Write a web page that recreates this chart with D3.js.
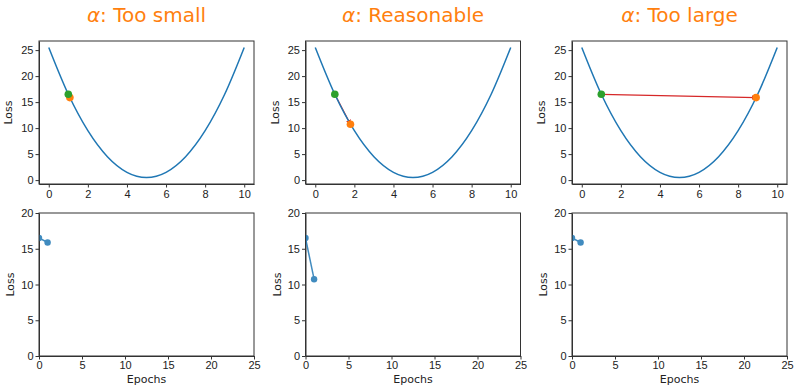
<!DOCTYPE html>
<html>
<head>
<meta charset="utf-8">
<script src="https://cdn.jsdelivr.net/npm/d3@7"></script>
<style>
  body { margin: 0; background: #fff; }
  svg { font-family: "DejaVu Sans", sans-serif; }
  .tick text { fill: #222; }
  .domain, .tick line { stroke: #333; }
</style>
</head>
<body>
<div id="chart"></div>
<script>
// loss curve samples
const curveX = [0, 1, 2, 3, 4, 5, 6, 7, 8, 9, 10];
const curveLoss = [25.5, 16.5, 9.5, 4.5, 1.5, 0.5, 1.5, 4.5, 9.5, 16.5, 25.5];

// one entry per learning rate
const titles = ['Too small', 'Reasonable', 'Too large'];
const startPoint = [1, 16.5];
const endX = [1.08, 1.8, 8.92];
const endLoss = [15.87, 10.74, 15.87];

// bottom row: loss per epoch
const epochs = [0, 1];
const lossHistory = [
  [16.5, 15.87],
  [16.5, 10.74],
  [16.5, 15.87]
];

const topTicksX = [0, 2, 4, 6, 8, 10];
const topTicksY = [0, 5, 10, 15, 20, 25];
const bottomTicksX = [0, 5, 10, 15, 20, 25];
const bottomTicksY = [0, 5, 10, 15, 20];

const blue = '#1f77b4', orange = '#ff7f0e', green = '#2ca02c', red = '#d62728';

const width = 800, height = 392;
const panelLeft = [39, 305.5, 572];
const panelW = 215;
const topY = 41, topH = 143;
const botY = 213, botH = 143;
const fs = 11;

const svg = d3.select('#chart')
  .append('svg')
  .attr('width', width)
  .attr('height', height);

const defs = svg.append('defs');
defs.append('marker')
  .attr('id', 'arrow')
  .attr('viewBox', '0 0 10 10')
  .attr('refX', 9)
  .attr('refY', 5)
  .attr('markerWidth', 5)
  .attr('markerHeight', 5)
  .attr('markerUnits', 'userSpaceOnUse')
  .attr('orient', 'auto')
  .append('path')
  .attr('d', 'M0,0L10,5L0,10z')
  .attr('fill', red);

const curveData = curveX.map((x, i) => [x, curveLoss[i]]);

titles.forEach((title, i) => {
  const left = panelLeft[i];

  // title
  const t = svg.append('text')
    .attr('x', left + panelW / 2)
    .attr('y', 22)
    .attr('text-anchor', 'middle')
    .attr('font-size', 20)
    .attr('fill', orange);
  t.append('tspan').attr('font-style', 'italic').text('α');
  t.append('tspan').text(': ' + title);

  // ---- top: loss landscape ----
  const g = svg.append('g').attr('transform', `translate(${left},${topY})`);
  const x = d3.scaleLinear().domain([-0.5, 10.5]).range([0, panelW]);
  const y = d3.scaleLinear().domain([-0.75, 26.75]).range([topH, 0]);

  g.append('g')
    .attr('transform', `translate(0,${topH})`)
    .call(d3.axisBottom(x).tickValues(topTicksX).tickSize(3.5).tickPadding(3).tickSizeOuter(0))
    .attr('font-size', fs);
  g.append('g')
    .call(d3.axisLeft(y).tickValues(topTicksY).tickSize(3.5).tickPadding(2).tickSizeOuter(0))
    .attr('font-size', fs);
  g.append('rect')
    .attr('width', panelW).attr('height', topH)
    .attr('fill', 'none').attr('stroke', '#333');

  g.append('text')
    .attr('transform', `translate(-27,${topH / 2}) rotate(-90)`)
    .attr('text-anchor', 'middle')
    .attr('font-size', fs)
    .attr('fill', '#222')
    .text('Loss');

  // step arrow (under the curve)
  g.append('line')
    .attr('x1', x(startPoint[0])).attr('y1', y(startPoint[1]))
    .attr('x2', x(endX[i])).attr('y2', y(endLoss[i]))
    .attr('stroke', red)
    .attr('stroke-width', 1.2)
    .attr('marker-end', 'url(#arrow)');

  const line = d3.line().x(d => x(d[0])).y(d => y(d[1])).curve(d3.curveMonotoneX);
  g.append('path')
    .datum(curveData)
    .attr('d', line)
    .attr('fill', 'none')
    .attr('stroke', blue)
    .attr('stroke-width', 1.5);

  g.append('circle')
    .attr('cx', x(endX[i])).attr('cy', y(endLoss[i]))
    .attr('r', 3.8)
    .attr('fill', orange);
  g.append('circle')
    .attr('cx', x(startPoint[0])).attr('cy', y(startPoint[1]))
    .attr('r', 3.8)
    .attr('fill', green);

  // ---- bottom: loss vs epochs ----
  const b = svg.append('g').attr('transform', `translate(${left},${botY})`);
  const bx = d3.scaleLinear().domain([0, 25]).range([0, panelW]);
  const by = d3.scaleLinear().domain([0, 20]).range([botH, 0]);

  b.append('g')
    .attr('transform', `translate(0,${botH})`)
    .call(d3.axisBottom(bx).tickValues(bottomTicksX).tickSize(3.5).tickPadding(2).tickSizeOuter(0))
    .attr('font-size', fs);
  b.append('g')
    .call(d3.axisLeft(by).tickValues(bottomTicksY).tickSize(3.5).tickPadding(2).tickSizeOuter(0))
    .attr('font-size', fs);

  const clipId = 'clip' + i;
  b.append('clipPath').attr('id', clipId)
    .append('rect').attr('width', panelW).attr('height', botH);

  const hist = epochs.map((e, k) => [e, lossHistory[i][k]]);
  const plot = b.append('g').attr('clip-path', `url(#${clipId})`).attr('opacity', 0.85);
  plot.append('path')
    .datum(hist)
    .attr('d', d3.line().x(d => bx(d[0])).y(d => by(d[1])))
    .attr('fill', 'none')
    .attr('stroke', blue)
    .attr('stroke-width', 1.5);
  plot.selectAll('circle')
    .data(hist)
    .join('circle')
    .attr('cx', d => bx(d[0]))
    .attr('cy', d => by(d[1]))
    .attr('r', 3.2)
    .attr('fill', blue);

  b.append('rect')
    .attr('width', panelW).attr('height', botH)
    .attr('fill', 'none').attr('stroke', '#333');

  b.append('text')
    .attr('transform', `translate(-25,${botH / 2}) rotate(-90)`)
    .attr('text-anchor', 'middle')
    .attr('font-size', fs)
    .attr('fill', '#222')
    .text('Loss');
  b.append('text')
    .attr('x', panelW / 2)
    .attr('y', botH + 27)
    .attr('text-anchor', 'middle')
    .attr('font-size', fs)
    .attr('fill', '#222')
    .text('Epochs');
});
</script>
</body>
</html>
